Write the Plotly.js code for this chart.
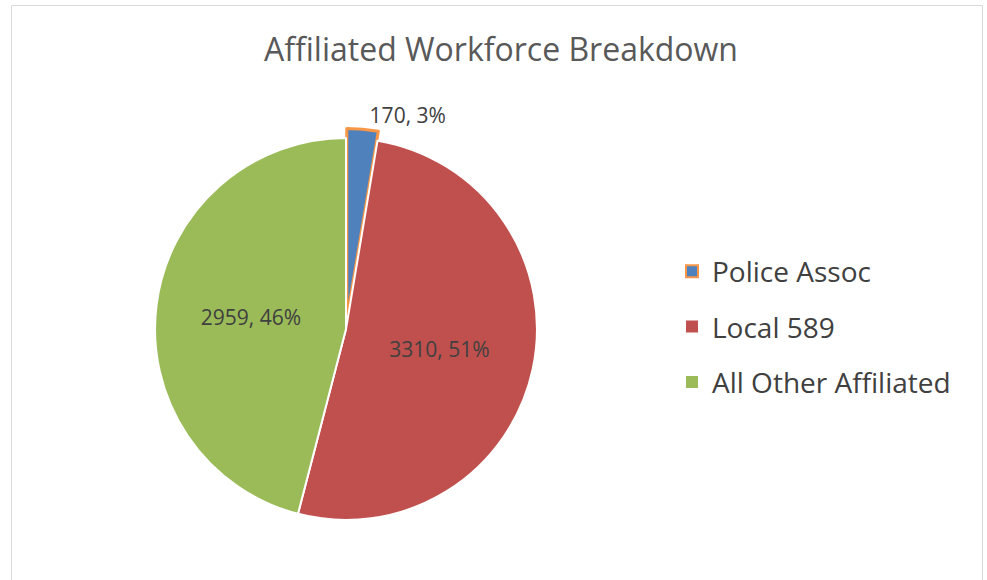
<!DOCTYPE html>
<html>
<head>
<meta charset="utf-8">
<script src="https://cdn.plot.ly/plotly-3.0.1.min.js"></script>
<style>html,body{margin:0;padding:0;background:#fff;}#chart{width:987px;height:580px;}</style>
</head>
<body>
<div id="chart"></div>
<script>
const labels = ["Police Assoc", "Local 589", "All Other Affiliated"];
const values = [170, 3310, 2959];
const colors = ["#4F81BD", "#C0504D", "#9BBB59"];
const borderColors = ["#F79646", "#FFFFFF", "#FFFFFF"];
const borderWidths = [3, 2, 2];
const pulls = [0.05, 0, 0];
const textPositions = ["outside", "inside", "inside"];

const W = 987, H = 580;
const FONT = "'Open Sans', Lato, sans-serif";
const TXT = "#404040";

const pie = {
  type: "pie",
  labels: labels,
  values: values,
  sort: false,
  direction: "clockwise",
  rotation: 0,
  pull: pulls,
  marker: {colors: colors, line: {color: borderColors, width: borderWidths}},
  texttemplate: "%{value}, %{percent:.0%}",
  textposition: textPositions,
  insidetextorientation: "horizontal",
  textfont: {family: FONT, size: 21, color: TXT},
  outsidetextfont: {family: FONT, size: 21, color: TXT},
  insidetextfont: {family: FONT, size: 21, color: TXT},
  domain: {x: [145.5 / W, 546.5 / W], y: [50.5 / H, 451.5 / H]},
  showlegend: false,
  hoverinfo: "label+value+percent"
};

const legendTraces = labels.map((lab, i) => ({
  type: "scatter",
  mode: "markers",
  x: [null], y: [null],
  name: lab,
  legendgroup: "g" + i,
  showlegend: true,
  marker: {symbol: "square", size: 10, color: colors[i],
           line: {color: i === 0 ? borderColors[0] : colors[i], width: i === 0 ? 3 : 0}},
  hoverinfo: "skip"
}));

const layout = {
  width: W, height: H,
  margin: {l: 0, r: 0, t: 0, b: 0},
  paper_bgcolor: "#FFFFFF",
  plot_bgcolor: "rgba(0,0,0,0)",
  font: {family: FONT, color: TXT},
  title: {text: "Affiliated Workforce Breakdown", font: {family: FONT, size: 32, color: "#595959"},
          x: 501 / W, xanchor: "center", y: 1 - 50 / H, yanchor: "middle", xref: "paper", yref: "paper"},
  xaxis: {visible: false}, yaxis: {visible: false},
  showlegend: true,
  legend: {x: 672 / W, xanchor: "left", y: 1 - 327 / H, yanchor: "middle",
           font: {family: FONT, size: 28, color: TXT}, tracegroupgap: 16,
           itemsizing: "constant", bgcolor: "rgba(0,0,0,0)"},
  shapes: [{type: "rect", xref: "paper", yref: "paper", x0: 11.5 / W, x1: 982.5 / W, y0: -0.05, y1: 1 - 5.5 / H,
            line: {color: "#D9D9D9", width: 1}, fillcolor: "rgba(0,0,0,0)", layer: "below"}]
};

Plotly.newPlot("chart", [pie].concat(legendTraces), layout, {displayModeBar: false, staticPlot: true});
</script>
</body>
</html>
